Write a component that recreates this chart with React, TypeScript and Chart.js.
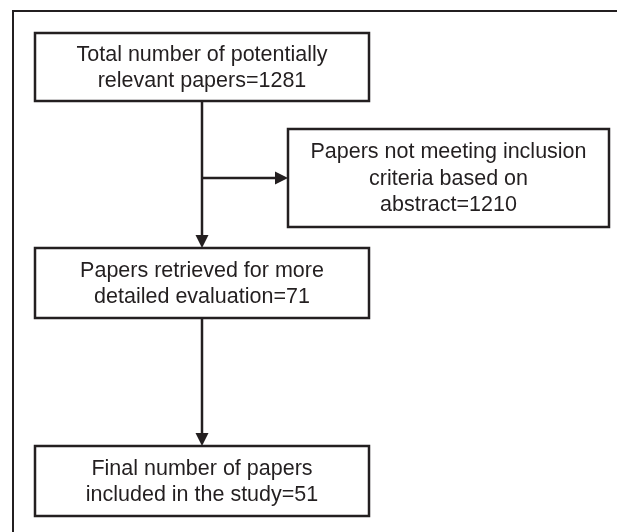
import { useEffect, useRef } from "react";
import { Chart, registerables } from "chart.js";

Chart.register(...registerables);

// ---- data ----
const stageLines: string[][] = [
  ["Total number of potentially", "relevant papers"],
  ["Papers not meeting inclusion", "criteria based on", "abstract"],
  ["Papers retrieved for more", "detailed evaluation"],
  ["Final number of papers", "included in the study"],
];
const stageCounts: number[] = [1281, 1210, 71, 51];

// ---- layout (axis units) ----
const BOXES = [
  { x0: 35, x1: 369, y0: 33, y1: 101 },
  { x0: 288, x1: 609, y0: 129, y1: 227 },
  { x0: 35, x1: 369, y0: 248, y1: 318 },
  { x0: 35, x1: 369, y0: 446, y1: 516 },
];
const SPINE_X = 202;
const BRANCH_Y = 178;
const FRAME = { x: 13, y: 11 };
const INK = "#231f20";
const FONT = "21.5px 'Liberation Sans', Arial, Helvetica, sans-serif";
const LINE_H = 26.5;
const ARROW_L = 13;
const ARROW_W = 6.5;

const flowPlugin = {
  id: "flow",
  afterDraw(chart: any) {
    const ctx: CanvasRenderingContext2D = chart.ctx;
    const sx = chart.scales.x;
    const sy = chart.scales.y;
    const X = (v: number) => sx.getPixelForValue(v);
    const Y = (v: number) => sy.getPixelForValue(v);
    ctx.save();
    ctx.strokeStyle = INK;
    ctx.fillStyle = INK;
    ctx.lineCap = "butt";
    ctx.lineJoin = "miter";

    // outer frame
    ctx.lineWidth = 2;
    ctx.beginPath();
    ctx.moveTo(X(FRAME.x), Y(600));
    ctx.lineTo(X(FRAME.x), Y(FRAME.y));
    ctx.lineTo(X(700), Y(FRAME.y));
    ctx.stroke();

    // boxes + text
    ctx.lineWidth = 2.5;
    ctx.font = FONT;
    ctx.textAlign = "center";
    ctx.textBaseline = "middle";
    BOXES.forEach((b, i) => {
      const px0 = X(b.x0), px1 = X(b.x1), py0 = Y(b.y0), py1 = Y(b.y1);
      ctx.strokeRect(px0, py0, px1 - px0, py1 - py0);
      const lines = stageLines[i].slice();
      lines[lines.length - 1] = `${lines[lines.length - 1]}=${stageCounts[i]}`;
      const cx = (px0 + px1) / 2;
      const cy = (py0 + py1) / 2;
      const start = cy - ((lines.length - 1) * LINE_H) / 2;
      lines.forEach((t, k) => ctx.fillText(t, cx, start + k * LINE_H + 1));
    });

    const downArrow = (x: number, yFrom: number, yTo: number) => {
      const px = X(x);
      ctx.beginPath();
      ctx.moveTo(px, Y(yFrom));
      ctx.lineTo(px, Y(yTo) - ARROW_L + 1);
      ctx.stroke();
      ctx.beginPath();
      ctx.moveTo(px, Y(yTo));
      ctx.lineTo(px - ARROW_W, Y(yTo) - ARROW_L);
      ctx.lineTo(px + ARROW_W, Y(yTo) - ARROW_L);
      ctx.closePath();
      ctx.fill();
    };
    const rightArrow = (y: number, xFrom: number, xTo: number) => {
      const py = Y(y);
      ctx.beginPath();
      ctx.moveTo(X(xFrom), py);
      ctx.lineTo(X(xTo) - ARROW_L + 1, py);
      ctx.stroke();
      ctx.beginPath();
      ctx.moveTo(X(xTo), py);
      ctx.lineTo(X(xTo) - ARROW_L, py - ARROW_W);
      ctx.lineTo(X(xTo) - ARROW_L, py + ARROW_W);
      ctx.closePath();
      ctx.fill();
    };

    downArrow(SPINE_X, BOXES[0].y1, BOXES[2].y0);
    rightArrow(BRANCH_Y, SPINE_X, BOXES[1].x0);
    downArrow(SPINE_X, BOXES[2].y1, BOXES[3].y0);
    ctx.restore();
  },
};

export default function App() {
  const ref = useRef<HTMLCanvasElement | null>(null);
  useEffect(() => {
    if (!ref.current) return;
    const chart = new Chart(ref.current, {
      type: "scatter",
      data: {
        datasets: [
          {
            data: BOXES.map((b) => ({ x: (b.x0 + b.x1) / 2, y: (b.y0 + b.y1) / 2 })),
            pointRadius: 0,
            showLine: false,
          },
        ],
      },
      options: {
        animation: false,
        responsive: true,
        maintainAspectRatio: false,
        layout: { padding: 0 },
        events: [],
        plugins: { legend: { display: false }, tooltip: { enabled: false } },
        scales: {
          x: { type: "linear", min: 0, max: 617, display: false },
          y: { type: "linear", min: 0, max: 532, reverse: true, display: false },
        },
      },
      plugins: [flowPlugin],
    });
    return () => chart.destroy();
  }, []);
  return (
    <div style={{ position: "absolute", left: 0, top: 0, width: 617, height: 532, background: "#fff" }}>
      <canvas ref={ref} />
    </div>
  );
}
